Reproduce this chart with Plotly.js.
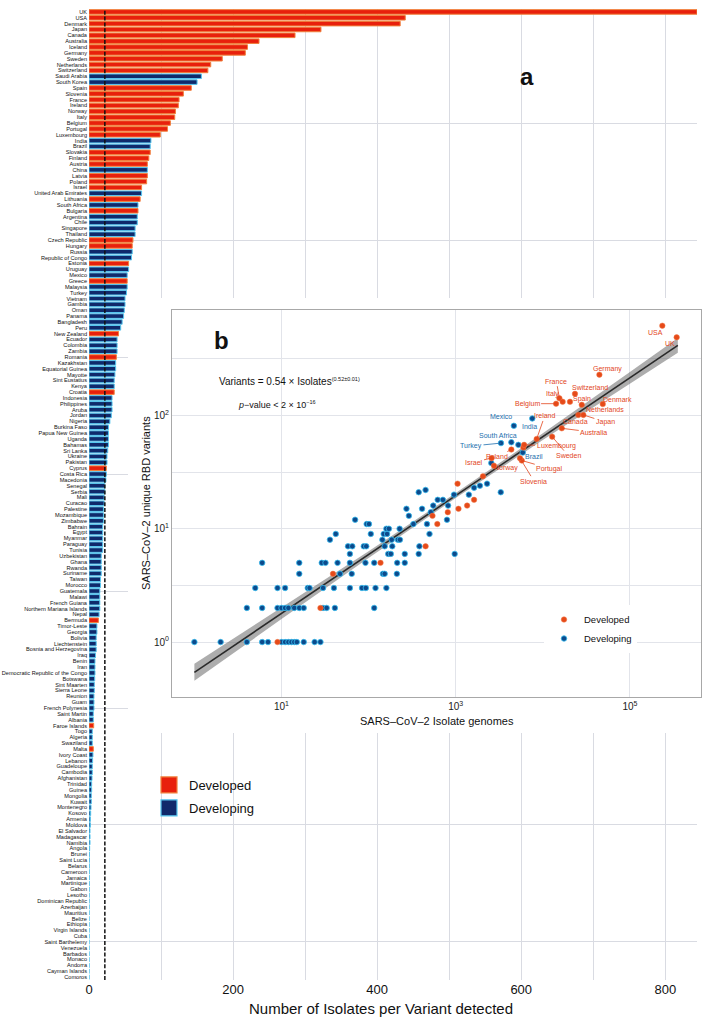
<!DOCTYPE html>
<html><head><meta charset="utf-8">
<script src="https://cdn.plot.ly/plotly-3.0.1.min.js"></script>
<style>html,body{margin:0;padding:0;background:#fff}#chart{width:702px;height:1020px}</style>
</head><body><div id="chart"></div>
<script>
// ---------- Panel a : isolates per variant ----------
const countries = ["UK","USA","Denmark","Japan","Canada","Australia","Iceland","Germany","Sweden","Netherlands","Switzerland","Saudi Arabia","South Korea","Spain","Slovenia","France","Ireland","Norway","Italy","Belgium","Portugal","Luxembourg","India","Brazil","Slovakia","Finland","Austria","China","Latvia","Poland","Israel","United Arab Emirates","Lithuania","South Africa","Bulgaria","Argentina","Chile","Singapore","Thailand","Czech Republic","Hungary","Russia","Republic of Congo","Estonia","Uruguay","Mexico","Greece","Malaysia","Turkey","Vietnam","Gambia","Oman","Panama","Bangladesh","Peru","New Zealand","Ecuador","Colombia","Zambia","Romania","Kazakhstan","Equatorial Guinea","Mayotte","Sint Eustatius","Kenya","Croatia","Indonesia","Philippines","Aruba","Jordan","Nigeria","Burkina Faso","Papua New Guinea","Uganda","Bahamas","Sri Lanka","Ukraine","Pakistan","Cyprus","Costa Rica","Macedonia","Senegal","Serbia","Mali","Curacao","Palestine","Mozambique","Zimbabwe","Bahrain","Egypt","Myanmar","Paraguay","Tunisia","Uzbekistan","Ghana","Rwanda","Suriname","Taiwan","Morocco","Guatemala","Malawi","French Guiana","Northern Mariana Islands","Nepal","Bermuda","Timor-Leste","Georgia","Bolivia","Liechtenstein","Bosnia and Herzegovina","Iraq","Benin","Iran","Democratic Republic of the Congo","Botswana","Sint Maarten","Sierra Leone","Reunion","Guam","French Polynesia","Saint Martin","Albania","Faroe Islands","Togo","Algeria","Swaziland","Malta","Ivory Coast","Lebanon","Guadeloupe","Cambodia","Afghanistan","Trinidad","Guinea","Mongolia","Kuwait","Montenegro","Kosovo","Armenia","Moldova","El Salvador","Madagascar","Namibia","Angola","Brunei","Saint Lucia","Belarus","Cameroon","Jamaica","Martinique","Gabon","Lesotho","Dominican Republic","Azerbaijan","Mauritius","Belize","Ethiopia","Virgin Islands","Cuba","Saint Barthelemy","Venezuela","Barbados","Monaco","Andorra","Cayman Islands","Comoros"];
const isolatesPerVariant = [844,439,432,322,286,236,220,217,185,169,165,156,150,142,131,125,124,120,119,113,109,99,86,85,85,83,81,81,81,80,73,73,71,68,68,67,67,64,64,61,60,60,59,55,55,53,53,53,52,50,50,49,48,46,44,41,39,39,39,38,37,37,36,35,35,35,32,32,32,31,29,27,27,27,27,26,25,25,24,24,23.5,22,22,21,21,20,20,20,19,19,19,19,19,17,17,17,17,16,16,15,15,15,15,14,13,11,11,10,10,10,9,8.3,8.3,8.3,7.9,7.4,7.4,6.9,6.9,6.9,6,6,6.5,4.6,4.6,4.6,6,5.5,5,4.6,4.6,4.2,3.7,3.7,3.2,3.2,2.8,2.3,1.9,1.9,1.4,1.4,1.4,0.9,0.5,0.5,0.3,0.3,0.3,0.2,0.2,0.1,0.1,0.1,0.1,0,0,0,0,0,0,0,0,0,0,0];
const developedFlag = [1,1,1,1,1,1,1,1,1,1,1,0,0,1,1,1,1,1,1,1,1,1,0,0,1,1,1,0,1,1,1,0,1,0,1,0,0,0,0,1,1,0,0,1,0,0,1,0,0,0,0,0,0,0,0,1,0,0,0,1,0,0,0,0,0,1,0,0,0,0,0,0,0,0,0,0,0,0,1,0,0,0,0,0,0,0,0,0,0,0,0,0,0,0,0,0,0,0,0,0,0,0,0,0,1,0,0,0,0,0,0,0,0,0,0,0,0,0,0,0,0,0,1,0,0,0,1,0,0,0,0,0,0,0,0,0,0,0,0,0,0,0,0,0,0,0,0,0,0,0,0,0,0,0,0,0,0,0,0,0,0,0,0,0,0,0];
const referenceLine = 22;
const groupNames = ["Developed","Developing"];

// ---------- Panel b : isolates vs unique RBD variants ----------
const developingIsolates = [1,2,4,6,7,10,11,12,13,14,15,18,24,28, 4,6,9,10,11,12,14,16,18,30,33,41,116, 5,9,11,20,21,30,40,61,84,93,120,160, 16,47,64,146,153,211, 6,16,29,32,44,61,92,116,213,260, 61,168,180,260,376,973, 58,65,88,94,153,187,383, 36,144,184,217,229, 42,106,149,163,500, 160,171,227, 95,101,327,468, 70,794, 290, 517, 272,411, 552,817, 621,713, 955,1416, 376,3290, 451, 1625, 1897, 2290,2564,5240];
const developingVariants = [1,1,1,1,1,1,1,1,1,1,1,1,1,1, 2,2,2,2,2,2,2,2,2,2,2,2,2, 3,3,3,3,3,3,3,3,3,3,3,3, 4,4,4,4,4,4, 5,5,5,5,5,5,5,5,5,5, 6,6,6,6,6,6, 7,7,7,7,7,7,7, 8,8,8,8,8, 9,9,9,9,9, 10,10,10, 11,11,11,11, 12,12, 13, 14, 15,15, 16,16, 18,18, 20,20, 21,21, 22, 23, 24, 25,38,55];
const developedIsolates = [9,28,39,137,451,615,541,811,1076,1352,1625,1050,2055,5980];
const developedVariants = [1,2,4,5,7,11,13,14,15,16,18,25,29,52];
const labelNames = ["USA","UK","Germany","Switzerland","Denmark","France","Italy","Spain","Belgium","Netherlands","Canada","Japan","Australia","India","Ireland","Mexico","South Africa","Turkey","Poland","Israel","Norway","Brazil","Luxembourg","Sweden","Portugal","Slovenia"];
const labelIsolates = [235500,344000,44600,23400,48800,15500,16900,20500,14200,28000,25600,29200,16500,7570,8500,4650,4350,3310,4350,2580,2750,5890,6100,12800,5730,5470];
const labelVariants = [619,489,229,155,126,142,132,132,127,124,101,101,77,94,62,81,58,57,50,42,36,47,55,65,40,42];
const labelDeveloped = [1,1,1,1,1,1,1,1,1,1,1,1,1,0,1,0,0,0,1,1,1,0,1,1,1,1];
const fitCoef = 0.54, fitExp = 0.52;
const bandLogX = [0, 1, 2, 3, 4, 5, 5.55];
const bandHalfLog = [0.075, 0.05, 0.03, 0.022, 0.03, 0.05, 0.065];

// ---------- styles / layout helpers ----------
const W = 702, H = 1020;
const px = v => v / W, py = v => 1 - v / H;
const RED = '#e8200c', RED_EDGE = '#f0803c', NAVY = '#10296b', NAVY_EDGE = '#55c6ef';
const PT_RED = '#e64a19', PT_BLUE = '#0c4a8c';
const LBL_RED = '#e2451c', LBL_BLUE = '#1d6fae';
const GRID = '#d9dbe2', IGRID = '#e2e4ea';
const FONT = 'Liberation Sans, Arial, Helvetica, sans-serif';

// label offsets in pixels (text centre relative to point) and whether a leader line is drawn
const labelStyle = {
  USA:[-7,7,0], UK:[-7,6,0], Germany:[8,-6,0], Switzerland:[15,-6,0], Denmark:[15,-5,0],
  France:[-3,-17,1], Italy:[-10,-8,1], Spain:[12,-3,1], Belgium:[-29,0,1], Netherlands:[23,5,1],
  Canada:[-3,7,0], Japan:[22,7,1], Australia:[32,4,1], India:[-3,8,0], Ireland:[8,-23,1],
  Mexico:[-13,-9,0], 'South Africa':[-13,-7,0], Turkey:[-30,3,1], Poland:[-14,7,1], Israel:[-18,4,1],
  Norway:[12,2,1], Brazil:[11,4,0], Luxembourg:[32,1,1], Sweden:[16,19,1], Portugal:[28,8,1], Slovenia:[14,23,1]
};

const traces = [];
// bars
[1,0].forEach(flag => {
  const ys = [], xs = [];
  countries.forEach((c,i) => { if (developedFlag[i] === flag) { ys.push(c); xs.push(isolatesPerVariant[i]); } });
  traces.push({type:'bar', orientation:'h', x:xs, y:ys, xaxis:'x', yaxis:'y', showlegend:false, hoverinfo:'skip',
    marker:{color: flag ? RED : NAVY, line:{color: flag ? RED_EDGE : NAVY_EDGE, width:1}}});
});
// carrier for the sparse horizontal grid
traces.push({type:'scatter', mode:'markers', x:[null], y:[null], xaxis:'x', yaxis:'y4', showlegend:false, hoverinfo:'skip'});
// legend entries for panel a
[1,0].forEach((flag,k) => {
  traces.push({type:'scatter', mode:'markers', x:[null], y:[null], xaxis:'x', yaxis:'y',
    name: groupNames[k], legend:'legend', legendgroup:'a'+k, legendrank:k+1, hoverinfo:'skip',
    marker:{symbol:'square', size:20, color: flag ? RED : NAVY, line:{color: flag ? RED_EDGE : NAVY_EDGE, width:1.2}}});
});
// white box behind inset
traces.push({type:'scatter', x:[], y:[], xaxis:'x2', yaxis:'y2', showlegend:false, hoverinfo:'skip'});
// regression band + line
const fitY = bandLogX.map(lx => fitCoef * Math.pow(Math.pow(10, lx), fitExp));
const bandX = bandLogX.map(lx => Math.pow(10, lx));
const upper = fitY.map((y,i) => y * Math.pow(10, bandHalfLog[i]));
const lower = fitY.map((y,i) => y / Math.pow(10, bandHalfLog[i]));
traces.push({type:'scatter', mode:'lines', x: bandX.concat(bandX.slice().reverse()), y: upper.concat(lower.slice().reverse()),
  fill:'toself', fillcolor:'rgba(105,105,105,0.55)', line:{width:0}, xaxis:'x3', yaxis:'y3', showlegend:false, hoverinfo:'skip'});
traces.push({type:'scatter', mode:'lines', x:[bandX[0], bandX[bandX.length-1]], y:[fitY[0], fitY[fitY.length-1]],
  line:{color:'#2a2a2a', width:1.6}, xaxis:'x3', yaxis:'y3', showlegend:false, hoverinfo:'skip'});
// points
const lblBlueX = [], lblBlueY = [], lblRedX = [], lblRedY = [];
labelNames.forEach((n,i) => { if (labelDeveloped[i]) { lblRedX.push(labelIsolates[i]); lblRedY.push(labelVariants[i]); } else { lblBlueX.push(labelIsolates[i]); lblBlueY.push(labelVariants[i]); } });
traces.push({type:'scatter', mode:'markers', name:'Developing', legend:'legend2', legendgroup:'b1', legendrank:2,
  x: developingIsolates.concat(lblBlueX), y: developingVariants.concat(lblBlueY), xaxis:'x3', yaxis:'y3', hoverinfo:'skip',
  marker:{color:PT_BLUE, size:5.5, line:{color:'#36bdf0', width:0.8}}});
traces.push({type:'scatter', mode:'markers', name:'Developed', legend:'legend2', legendgroup:'b0', legendrank:1,
  x: developedIsolates.concat(lblRedX), y: developedVariants.concat(lblRedY), xaxis:'x3', yaxis:'y3', hoverinfo:'skip',
  marker:{color:PT_RED, size:5.5, line:{color:'#f07a4a', width:0.5}}});

// annotations
const annotations = [
  {xref:'paper', yref:'paper', x:px(527), y:py(77), xanchor:'center', yanchor:'middle', text:'<b>a</b>', showarrow:false, font:{size:24, color:'#111'}},
  {xref:'paper', yref:'paper', x:px(221), y:py(341), xanchor:'center', yanchor:'middle', text:'<b>b</b>', showarrow:false, font:{size:24, color:'#111'}},
  {xref:'paper', yref:'paper', x:px(217), y:py(381.5), xanchor:'left', yanchor:'middle', showarrow:false,
   text:'Variants = 0.54 × Isolates<sup><span style="font-size:5.5px">(0.52±0.01)</span></sup>', font:{size:10, color:'#111'}},
  {xref:'paper', yref:'paper', x:px(235.5), y:py(405), xanchor:'left', yanchor:'middle', showarrow:false,
   text:'<i>p</i>−value < 2 × 10<sup><span style="font-size:5.5px">−16</span></sup>', font:{size:9, color:'#111'}},
  // axis titles
  {xref:'paper', yref:'paper', x:px(381), y:py(1008), xanchor:'center', yanchor:'middle', showarrow:false,
   text:'Number of Isolates per Variant detected', font:{size:15, color:'#111'}},
  {xref:'paper', yref:'paper', x:px(436.5), y:py(721), xanchor:'center', yanchor:'middle', showarrow:false,
   text:'SARS–CoV–2 Isolate genomes', font:{size:11, color:'#111'}},
  {xref:'paper', yref:'paper', x:px(146), y:py(503), xanchor:'center', yanchor:'middle', showarrow:false, textangle:-90,
   text:'SARS–CoV–2 unique RBD variants', font:{size:11, color:'#111'}}
];
labelNames.forEach((n,i) => {
  const s = labelStyle[n];
  const col = labelDeveloped[i] ? LBL_RED : LBL_BLUE;
  const a = {xref:'x3', yref:'y3', x:Math.log10(labelIsolates[i]), y:Math.log10(labelVariants[i]), text:n,
    font:{size:7, color:col}};
  if (s[2]) Object.assign(a, {showarrow:true, ax:s[0], ay:s[1], arrowhead:0, arrowwidth:0.8, arrowcolor:col, standoff:0, startstandoff:0});
  else Object.assign(a, {showarrow:false, xshift:s[0], yshift:-s[1]});
  annotations.push(a);
});

const layout = {
  width:W, height:H, margin:{l:0, r:0, t:0, b:0},
  paper_bgcolor:'#fff', plot_bgcolor:'#fff', font:{family:FONT, color:'#111'},
  barmode:'overlay', bargap:0.22, showlegend:true, hovermode:false,
  xaxis:{domain:[px(89), px(697)], range:[0, 844], anchor:'y', tick0:0, dtick:200, showgrid:true, gridcolor:GRID, gridwidth:1,
    minor:{dtick:100, showgrid:true, gridcolor:GRID, gridwidth:1}, zeroline:false, showline:false, ticks:'',
    tickfont:{size:13, color:'#111'}},
  yaxis:{domain:[py(980), py(9)], anchor:'x', type:'category', categoryorder:'array', categoryarray:countries,
    range:[countries.length-0.5, -0.5], tickmode:'linear', tick0:0, dtick:1, showgrid:false, zeroline:false, ticks:'',
    ticklabelstandoff:1, tickfont:{size:5.6, color:'#111'}},
  yaxis4:{overlaying:'y', anchor:'x', range:[countries.length-0.5, -0.5], tickmode:'linear', tick0:19, dtick:20,
    showgrid:true, gridcolor:GRID, gridwidth:1, showticklabels:false, ticks:'', zeroline:false, showline:false},
  xaxis2:{domain:[px(128), 1], anchor:'y2', range:[0,1], visible:false},
  yaxis2:{domain:[py(733), py(298)], anchor:'x2', range:[0,1], visible:false},
  xaxis3:{type:'log', domain:[px(172), px(701)], anchor:'y3', range:[-0.257, 5.816], tickmode:'array',
    tickvals:[10,1000,100000], ticktext:['10<sup>1</sup>','10<sup>3</sup>','10<sup>5</sup>'],
    showgrid:true, gridcolor:IGRID, showline:true, mirror:true, linecolor:'#a8a8a8', linewidth:1, zeroline:false, ticks:'',
    tickfont:{size:10, color:'#222'}},
  yaxis3:{type:'log', domain:[py(697), py(309.5)], anchor:'x3', range:[-0.485, 2.935], tickmode:'array',
    tickvals:[1,10,100], ticktext:['10<sup>0</sup>','10<sup>1</sup>','10<sup>2</sup>'],
    minor:{tickmode:'array', tickvals:[3.1623, 31.623, 316.23], showgrid:true, gridcolor:IGRID, ticks:''},
    showgrid:true, gridcolor:IGRID, showline:true, mirror:true, linecolor:'#a8a8a8', linewidth:1, zeroline:false, ticks:'',
    tickfont:{size:10, color:'#222'}},
  legend:{x:px(149), y:py(770), xanchor:'left', yanchor:'top', bgcolor:'rgba(0,0,0,0)', font:{size:13, color:'#111'},
    traceorder:'grouped', tracegroupgap:3, itemsizing:'trace'},
  legend2:{x:px(544), y:py(605), xanchor:'left', yanchor:'top', bgcolor:'#fff', font:{size:9.5, color:'#111'},
    traceorder:'grouped', tracegroupgap:0},
  shapes:[{type:'line', xref:'x', yref:'y domain', x0:referenceLine, x1:referenceLine, y0:0, y1:1,
    line:{color:'#111', width:1.5, dash:'4px,1.85px'}, layer:'above'}],
  annotations: annotations
};

Plotly.newPlot('chart', traces, layout, {staticPlot:true, displayModeBar:false});
</script>
</body></html>
